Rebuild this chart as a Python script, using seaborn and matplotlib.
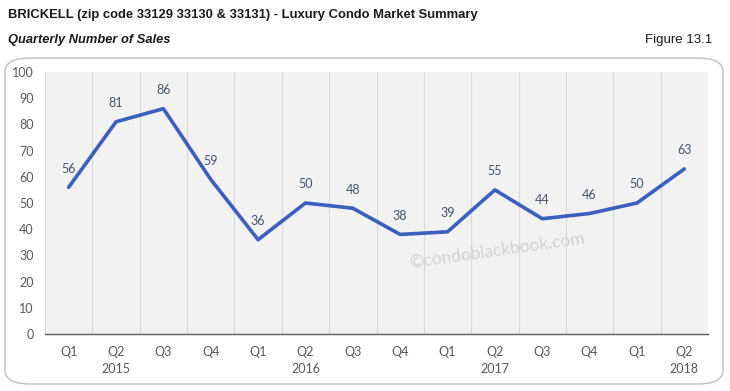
import numpy as np
import pandas as pd
import seaborn as sns
import matplotlib.pyplot as plt
from matplotlib.patches import FancyBboxPatch

# Quarterly number of sales, Brickell
quarters = ["Q1", "Q2", "Q3", "Q4", "Q1", "Q2", "Q3", "Q4",
            "Q1", "Q2", "Q3", "Q4", "Q1", "Q2"]
years = ["", "2015", "", "", "", "2016", "", "", "", "2017", "", "", "", "2018"]
sales = [56, 81, 86, 59, 36, 50, 48, 38, 39, 55, 44, 46, 50, 63]

df = pd.DataFrame({"idx": np.arange(len(sales)), "sales": sales})

sns.set_style("white")
plt.rcParams['font.family'] = ['Liberation Sans', 'DejaVu Sans']

fig = plt.figure(figsize=(7.3, 3.91), dpi=100)

# outer rounded frame (behind the axes)
frame = FancyBboxPatch((5 / 730, 7 / 391), 718 / 730, 326 / 391,
                       boxstyle="round,pad=0,rounding_size=0.035",
                       transform=fig.transFigure, facecolor="white",
                       edgecolor="#bfbfbf", linewidth=1.0, zorder=-5)
fig.patches.append(frame)

ax = fig.add_axes([45 / 730, 57 / 391, 663 / 730, 262 / 391])
ax.set_facecolor("#f2f2f2")

sns.lineplot(data=df, x="idx", y="sales", ax=ax, color="#3a5fbf",
             linewidth=2.6, zorder=3)

# data labels
for i, v in enumerate(sales):
    ax.annotate(str(v), (i, v), xytext=(0, 9), textcoords="offset points",
                ha="center", va="bottom", fontsize=9, color="#44546a",
                family=["Lato", "DejaVu Sans"])

ax.set_xlim(-0.5, len(sales) - 0.5)
ax.set_ylim(0, 100)
ax.set_yticks(range(0, 101, 10))

labels = [q if y == "" else q + "\n" + y for q, y in zip(quarters, years)]
ax.set_xticks(range(len(sales)))
ax.set_xticklabels(labels, linespacing=1.45)
ax.set_xticks(np.arange(-0.5, len(sales), 1.0), minor=True)
ax.tick_params(axis="x", which="major", length=0, pad=9, labelsize=9,
               labelcolor="#595959")
ax.tick_params(axis="x", which="minor", length=4, color="#595959",
               direction="out")
ax.tick_params(axis="y", length=0, pad=8, labelsize=9, labelcolor="#595959")
for lab in ax.get_xticklabels() + ax.get_yticklabels():
    lab.set_fontfamily(["Lato", "DejaVu Sans"])

ax.grid(False)
ax.grid(True, which="minor", axis="x", color="#d9d9d9", linewidth=0.8)
ax.set_axisbelow(True)

for s in ["top", "right", "left"]:
    ax.spines[s].set_visible(False)
ax.spines["bottom"].set_color("#595959")
ax.spines["bottom"].set_linewidth(1.0)
ax.set_xlabel("")
ax.set_ylabel("")

# watermark
ax.text(0.682, 0.32, "\u00a9condoblackbook.com", transform=ax.transAxes,
        rotation=8, fontsize=12.5, color="#d3d3d3", ha="center", va="center",
        family=["Lato", "DejaVu Sans"], zorder=2)

# titles
fig.text(8 / 730, 1 - 15 / 391, "BRICKELL (zip code 33129 33130 & 33131) - Luxury Condo Market Summary",
         fontsize=9.4, fontweight="bold", ha="left", va="center", color="#1a1a1a")
fig.text(8 / 730, 1 - 40 / 391, "Quarterly Number of Sales",
         fontsize=9.3, fontweight="bold", style="italic", ha="left", va="center",
         color="#1a1a1a")
fig.text(712 / 730, 1 - 40 / 391, "Figure 13.1",
         fontsize=9.5, ha="right", va="center", color="#1a1a1a")

fig.savefig("out.png", dpi=100)
